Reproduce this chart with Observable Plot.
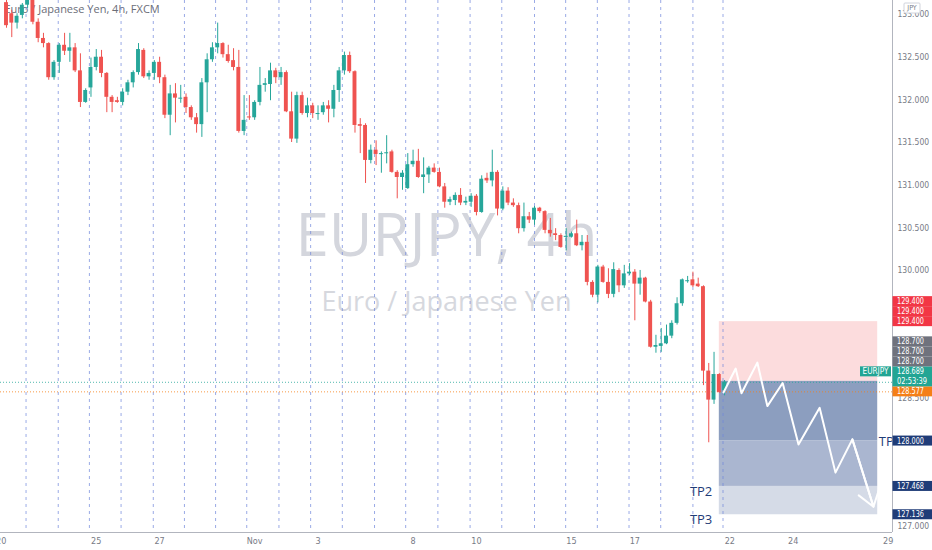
<!DOCTYPE html>
<html>
<head>
<meta charset="UTF-8">
<title>EURJPY, 4h</title>
<script src="https://cdn.jsdelivr.net/npm/d3@7"></script>
<script src="https://cdn.jsdelivr.net/npm/@observablehq/plot@0.6"></script>
<style>
  body { margin: 0; background: #fff; }
  #chart svg { display: block; }
</style>
</head>
<body>
<div id="chart"></div>
<script>
// 4h candles, bar 0 = second bar of Oct 20
const opens = [133.14,133.01,132.90,132.99,133.11,133.17,132.91,132.72,132.66,132.26,132.44,132.64,132.57,132.61,132.34,131.97,132.14,132.38,132.50,132.31,132.03,131.99,131.97,132.09,132.20,132.32,132.58,132.27,132.31,132.44,
  132.26,131.82,132.07,132.02,132.03,131.91,131.79,131.71,132.20,132.47,132.61,132.66,132.53,132.46,132.38,131.63,131.80,131.79,131.97,132.17,132.18,132.34,132.26,132.32,131.86,131.54,132.05,131.84,131.93,131.84,
  131.85,131.93,131.89,132.11,132.34,132.52,132.33,131.71,131.70,131.29,131.41,131.37,131.38,131.39,131.15,131.09,130.96,131.24,131.28,131.09,131.12,131.20,131.15,130.98,130.80,130.82,130.88,130.79,130.80,130.87,
  130.68,131.08,131.05,131.15,130.72,130.93,130.79,130.76,130.49,130.63,130.59,130.73,130.69,130.47,130.43,130.41,130.40,130.39,130.43,130.29,130.33,129.86,129.71,130.04,129.86,129.72,130.00,129.82,129.96,129.98,
  129.84,129.91,129.63,129.10,129.11,129.14,129.23,129.38,129.61,129.88,129.89,129.84,129.81,128.82,128.48,128.78,128.59];
const highs = [133.22,133.05,133.01,133.13,133.20,133.20,132.95,132.78,132.67,132.46,132.66,132.78,132.78,132.66,132.54,132.13,132.49,132.59,132.58,132.32,132.05,132.03,132.13,132.23,132.34,132.66,132.60,132.34,132.46,132.50,
  132.29,132.17,132.19,132.17,132.07,131.93,131.84,132.25,132.54,132.67,132.90,132.67,132.64,132.60,132.58,132.05,132.05,131.99,132.38,132.25,132.43,132.37,132.38,132.34,132.09,132.09,132.09,132.02,131.96,131.93,
  131.97,131.99,132.17,132.38,132.56,132.56,132.34,131.78,131.72,131.47,131.52,131.39,131.58,131.41,131.17,131.17,131.37,131.41,131.42,131.32,131.22,131.25,131.20,131.02,130.86,130.91,130.96,130.86,130.90,130.89,
  131.11,131.14,131.41,131.17,130.98,130.97,130.84,130.79,130.79,130.68,130.75,130.74,130.70,130.61,130.49,130.43,130.49,130.45,130.59,130.41,130.41,129.88,130.06,130.06,130.02,130.09,130.02,130.06,130.08,130.01,
  130.00,129.92,129.65,129.24,129.32,129.36,129.41,129.68,129.90,129.93,129.98,129.91,129.82,128.91,129.04,128.79,128.71];
const lows = [132.84,132.73,132.83,132.95,133.07,132.88,132.67,132.61,132.23,132.23,132.31,132.52,132.44,132.32,131.91,131.96,132.03,132.34,132.26,131.85,131.85,131.96,131.93,132.05,132.14,132.29,132.25,132.23,132.23,132.19,
  131.78,131.58,131.73,131.96,131.84,131.76,131.61,131.56,131.85,132.44,132.54,132.49,132.43,132.34,131.61,131.58,131.76,131.76,131.93,132.09,131.99,132.19,132.17,131.85,131.50,131.49,131.82,131.79,131.78,131.76,
  131.82,131.73,131.79,131.97,132.29,132.31,131.61,131.37,131.02,131.25,131.23,131.14,131.25,131.14,130.84,130.94,130.95,131.21,131.08,130.90,131.02,131.14,130.97,130.73,130.76,130.76,130.76,130.76,130.74,130.64,
  130.67,131.02,130.98,130.64,130.70,130.76,130.74,130.43,130.45,130.55,130.53,130.67,130.43,130.39,130.35,130.26,130.23,130.38,130.28,130.23,129.82,129.68,129.62,129.85,129.67,129.68,129.74,129.79,129.94,129.41,
  129.71,129.62,129.09,129.03,129.04,129.13,129.20,129.36,129.58,129.85,129.80,129.80,128.65,127.98,128.43,128.56,128.53];
const closes = [132.87,132.90,132.98,133.11,133.17,132.91,132.72,132.66,132.26,132.44,132.64,132.57,132.61,132.34,131.97,132.11,132.38,132.50,132.31,132.03,131.97,131.97,132.09,132.20,132.32,132.59,132.27,132.31,132.44,132.26,
  131.82,132.07,132.02,132.03,131.91,131.79,131.71,132.20,132.47,132.61,132.66,132.53,132.45,132.38,131.63,131.76,131.79,131.97,132.17,132.19,132.34,132.26,132.32,131.86,131.54,132.05,131.84,131.93,131.84,131.85,
  131.93,131.89,132.11,132.34,132.52,132.33,131.70,131.69,131.29,131.41,131.36,131.38,131.39,131.15,131.09,131.14,131.24,131.28,131.09,131.12,131.20,131.15,130.98,130.80,130.83,130.88,130.79,130.81,130.87,130.68,
  131.07,131.05,131.15,130.72,130.93,130.79,130.76,130.49,130.63,130.59,130.73,130.69,130.47,130.43,130.41,130.27,130.41,130.43,130.29,130.33,129.86,129.71,130.04,129.86,129.72,130.01,129.82,129.96,129.98,129.84,
  129.91,129.63,129.10,129.12,129.14,129.23,129.38,129.61,129.89,129.89,129.82,129.81,128.82,128.48,128.78,128.57,128.69];

// time axis (bar positions of day starts)
const xTickBars = [-1, 17, 29, 47, 59, 77, 89, 107, 119, 137, 149, 167];
const xTickLabels = ["20", "25", "27", "Nov", "3", "8", "10", "15", "17", "22", "24", "29"];
const yTicks = [133, 132.5, 132, 131.5, 131, 130.5, 130, 128.5, 127];

// dashed vertical lines drawn on the chart
const dayLines = [3.7, 9.8, 15.7, 21.7, 27.8, 33.7, 39.6, 45.5, 51.6, 57.6, 63.6, 69.7, 75.6, 81.7, 87.8, 93.8, 100.0, 105.9, 111.9, 117.9, 123.9, 130.0, 135.7];

// short position tool
const stopPrice = 129.4;
const entryPrice = 128.7;
const targetPrices = [128.0, 127.468, 127.136];
const targetNames = ["TP1", "TP2", "TP3"];
const boxFrom = 135, boxTo = 165;

// projected path
const pathBars = [135.8, 138.1, 139.2, 142.2, 144.1, 147.0, 150.0, 154.0, 157.0, 160.2, 164.2];
const pathPrices = [128.57, 128.85, 128.56, 128.92, 128.41, 128.68, 127.96, 128.39, 127.63, 128.02, 127.23];

const lastPrice = 128.689;
const prevPrice = 128.577;
const countdown = "02:53:39";

// price scale badges
const badgePrices = [129.4, 129.4, 129.4, 128.7, 128.7, 128.7, 128.689, 128.577, 128.0, 127.468, 127.136];
const badgeKinds = ["stop", "stop", "stop", "entry", "entry", "entry", "last", "prev", "tp", "tp", "tp"];

const UP = "#26a69a", DOWN = "#ef5350";
const badgeColor = {stop: "#f23645", entry: "#6f727d", last: "#22a594", prev: "#f57f17", tp: "#1f3c78"};
const narrow = "'Liberation Sans Narrow','DejaVu Sans Condensed',sans-serif";
const regular = "'Open Sans','Noto Sans',sans-serif";

const xDomain = [-1.136, 167.8];
const yDomain = [126.928, 133.165];

const bars = opens.map((o, i) => ({i, o, h: highs[i], l: lows[i], c: closes[i], up: closes[i] >= o}));
const zones = [
  {y1: stopPrice, y2: entryPrice, fill: "#fcdcdd"},
  {y1: entryPrice, y2: targetPrices[0], fill: "#8c9ebf"},
  {y1: targetPrices[0], y2: targetPrices[1], fill: "#aab6d0"},
  {y1: targetPrices[1], y2: targetPrices[2], fill: "#d5dbe7"}
];
const path = pathBars.map((x, i) => ({x, y: pathPrices[i]}));
const lastSeg = [{x1: pathBars[9], y1: pathPrices[9], x2: pathBars[10], y2: pathPrices[10]}];
const tpLabels = targetNames.map((t, i) => ({t, y: targetPrices[i]}));

const chart = Plot.plot({
  width: 932,
  height: 550,
  marginLeft: 0,
  marginRight: 40,
  marginTop: 0,
  marginBottom: 18,
  x: {domain: xDomain, axis: null},
  y: {domain: yDomain, axis: null},
  style: {background: "#fff", fontFamily: narrow},
  marks: [
    Plot.text(["EURJPY, 4h"], {frameAnchor: "middle", dy: -30, fontSize: 60, fill: "#d4d6dd", fontFamily: regular}),
    Plot.text(["Euro / Japanese Yen"], {frameAnchor: "middle", dy: 36, fontSize: 27, fill: "#d6d8de", fontFamily: regular}),
    Plot.text(["Euro / Japanese Yen, 4h, FXCM"], {frameAnchor: "top-left", dx: 4, dy: 5, lineAnchor: "top", textAnchor: "start", fontSize: 11, fill: "#6b6e78", fontFamily: regular}),
    Plot.rect(zones, {x1: boxFrom, x2: boxTo, y1: "y1", y2: "y2", fill: d => d.fill}),
    Plot.ruleX(dayLines, {stroke: "#6f86dc", strokeOpacity: 0.7, strokeDasharray: "3,4"}),
    Plot.ruleY([lastPrice], {stroke: UP, strokeDasharray: "1,2", strokeOpacity: 0.8}),
    Plot.ruleY([prevPrice], {stroke: "#f57f17", strokeDasharray: "1,2", strokeOpacity: 0.8}),
    Plot.ruleX(bars, {x: "i", y1: "l", y2: "h", stroke: d => d.up ? UP : DOWN, clip: true}),
    Plot.rect(bars, {
      x1: d => d.i - 0.37,
      x2: d => d.i + 0.37,
      y1: "o",
      y2: d => Math.abs(d.c - d.o) < 0.012 ? d.o - 0.012 : d.c,
      fill: d => d.up ? UP : DOWN,
      clip: true
    }),
    Plot.line(path, {x: "x", y: "y", stroke: "#fff", strokeWidth: 2}),
    Plot.arrow(lastSeg, {x1: "x1", y1: "y1", x2: "x2", y2: "y2", stroke: "#fff", strokeWidth: 2, headLength: 14, headAngle: 70}),
    Plot.text(tpLabels.slice(1), {x: boxFrom, y: "y", text: "t", textAnchor: "end", dx: -7, lineAnchor: "top", fontSize: 13, fill: "#1f3c78", fontFamily: regular}),
    Plot.text(tpLabels.slice(0, 1), {x: boxTo, y: "y", text: "t", textAnchor: "start", dx: 1, dy: -4, lineAnchor: "top", fontSize: 13, fill: "#1f3c78", fontFamily: regular, clip: true}),
    Plot.ruleX([xDomain[1]], {stroke: "#b2b5be"}),
    Plot.ruleY([yDomain[0]], {stroke: "#b2b5be"}),
    Plot.axisY({anchor: "right", ticks: yTicks, tickFormat: d3.format(".3f"), tickSize: 0, tickPadding: 5, fontSize: 8.5, color: "#787b86", label: null}),
    Plot.axisX({ticks: xTickBars, tickFormat: d => xTickLabels[xTickBars.indexOf(d)], tickSize: 0, tickPadding: 5, fontSize: 9, color: "#787b86", label: null})
  ]
});

document.querySelector("#chart").append(chart);

// price badges on the right scale, stacked where they overlap
const yS = chart.scale("y");
const fmt = d3.format(".3f");
const items = badgePrices.map((p, i) => ({p, kind: badgeKinds[i], lines: badgeKinds[i] === "last" ? [fmt(p), countdown] : [fmt(p)]}));
items.sort((a, b) => a.p - b.p);
let limit = Infinity;
for (const it of items) {
  const h = 10 * it.lines.length;
  const bottom = Math.min(yS.apply(it.p) - 5 + h, limit);
  it.top = bottom - h;
  limit = it.top;
}
const svg = d3.select(chart);
const g = svg.append("g").attr("font-family", narrow).attr("font-size", 9).attr("text-anchor", "start");
for (const it of items) {
  g.append("rect").attr("x", 892.5).attr("y", it.top).attr("width", 40).attr("height", 10 * it.lines.length)
    .attr("fill", badgeColor[it.kind]);
  it.lines.forEach((t, j) => {
    g.append("text").attr("x", 897).attr("y", it.top + 10 * j + 5).attr("dy", "0.35em")
      .attr("text-anchor", "start").attr("fill", "#fff")
      .attr("textLength", t.length > 7 ? 30 : 27).attr("lengthAdjust", "spacingAndGlyphs").text(t);
  });
  if (it.kind === "last") {
    g.append("rect").attr("x", 860).attr("y", it.top).attr("width", 31).attr("height", 10).attr("fill", badgeColor.last);
    g.append("text").attr("x", 862.5).attr("y", it.top + 5).attr("dy", "0.35em").attr("text-anchor", "start")
      .attr("font-size", 8).attr("textLength", 26).attr("lengthAdjust", "spacingAndGlyphs")
      .attr("fill", "#fff").text("EURJPY");
  }
}
g.append("rect").attr("x", 904).attr("y", 3).attr("width", 16).attr("height", 10)
  .attr("fill", "#fff").attr("stroke", "#d1d4dc").attr("rx", 1);
g.append("text").attr("x", 912).attr("y", 8).attr("dy", "0.35em").attr("text-anchor", "middle")
  .attr("font-size", 7).attr("fill", "#787b86").text("JPY");
</script>
</body>
</html>
